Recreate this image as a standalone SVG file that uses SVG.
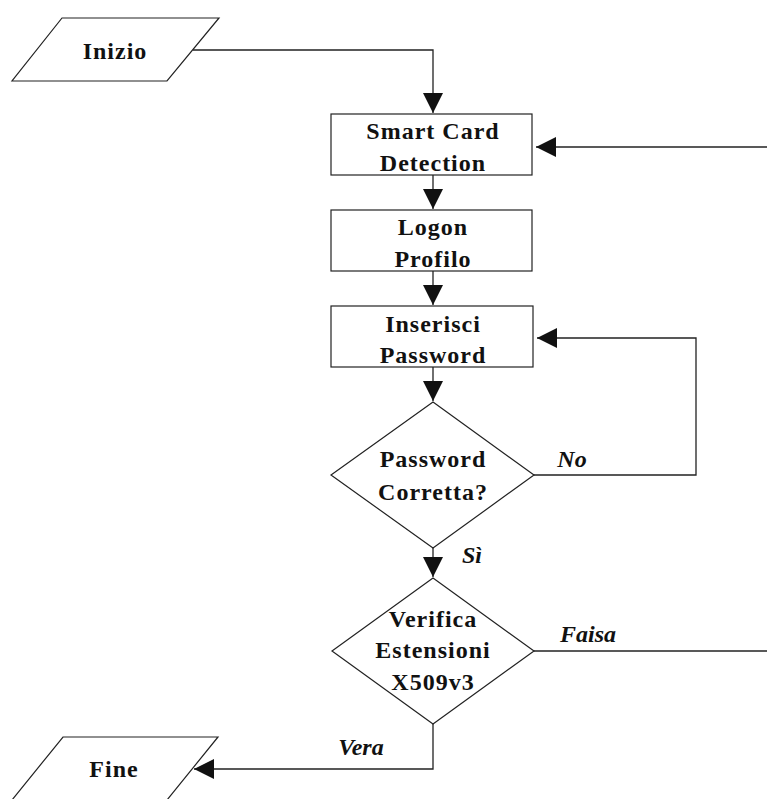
<svg xmlns="http://www.w3.org/2000/svg" width="767" height="799" viewBox="0 0 767 799">
  <defs>
    <marker id="arrow" viewBox="0 0 20 20" refX="20" refY="10" markerWidth="20" markerHeight="20" markerUnits="userSpaceOnUse" orient="auto">
      <path d="M0,0 L20,10 L0,20 Z" fill="#111"/>
    </marker>
  </defs>
  <style>
    .shape { fill: #fff; stroke: #222; stroke-width: 1.2; }
    .edge { fill: none; stroke: #222; stroke-width: 1.3; }
    .lbl { font-family: "Liberation Serif", "Times New Roman", serif; font-size: 24px; font-weight: bold; fill: #111; text-anchor: middle; letter-spacing: 1px; }
    .cond { font-family: "Liberation Serif", "Times New Roman", serif; font-size: 24px; font-weight: bold; font-style: italic; fill: #111; text-anchor: middle; }
  </style>
  <rect width="767" height="799" fill="#fff"/>

  <g id="connectors">
    <path class="edge" d="M193,50 H433 V113" marker-end="url(#arrow)"/>
    <path class="edge" d="M433,175 V209" marker-end="url(#arrow)"/>
    <path class="edge" d="M433,271 V305" marker-end="url(#arrow)"/>
    <path class="edge" d="M433,367 V401" marker-end="url(#arrow)"/>
    <path class="edge" d="M534,475 H696 V338 H537" marker-end="url(#arrow)"/>
    <path class="edge" d="M433,548 V577" marker-end="url(#arrow)"/>
    <path class="edge" d="M534,651 H767"/>
    <path class="edge" d="M767,147 H536" marker-end="url(#arrow)"/>
    <path class="edge" d="M433,724 V769 H194" marker-end="url(#arrow)"/>
    <text class="cond" x="572" y="467">No</text>
    <text class="cond" x="472" y="563">Sì</text>
    <text class="cond" x="588" y="642">Faisa</text>
    <text class="cond" x="361" y="755">Vera</text>
  </g>

  <g id="inizio">
    <polygon class="shape" points="62,18 219,18 167,81 12,81"/>
    <text class="lbl" x="115" y="59">Inizio</text>
  </g>

  <g id="smart-card">
    <rect class="shape" x="331" y="114" width="201" height="61"/>
    <text class="lbl" x="433" y="139">Smart Card</text>
    <text class="lbl" x="433" y="171">Detection</text>
  </g>

  <g id="logon">
    <rect class="shape" x="331" y="210" width="201" height="61"/>
    <text class="lbl" x="433" y="235">Logon</text>
    <text class="lbl" x="433" y="267">Profilo</text>
  </g>

  <g id="password">
    <rect class="shape" x="331" y="306" width="202" height="61"/>
    <text class="lbl" x="433" y="332">Inserisci</text>
    <text class="lbl" x="433" y="363">Password</text>
  </g>

  <g id="check-password">
    <polygon class="shape" points="433,402 534,475 433,548 331,475"/>
    <text class="lbl" x="433" y="467">Password</text>
    <text class="lbl" x="433" y="500">Corretta?</text>
  </g>

  <g id="check-extensions">
    <polygon class="shape" points="433,578 534,651 433,724 332,651"/>
    <text class="lbl" x="433" y="627">Verifica</text>
    <text class="lbl" x="433" y="658">Estensioni</text>
    <text class="lbl" x="433" y="690">X509v3</text>
  </g>

  <g id="fine">
    <polygon class="shape" points="63,737 218,737 167,800 12,800"/>
    <text class="lbl" x="114" y="777">Fine</text>
  </g>
</svg>
